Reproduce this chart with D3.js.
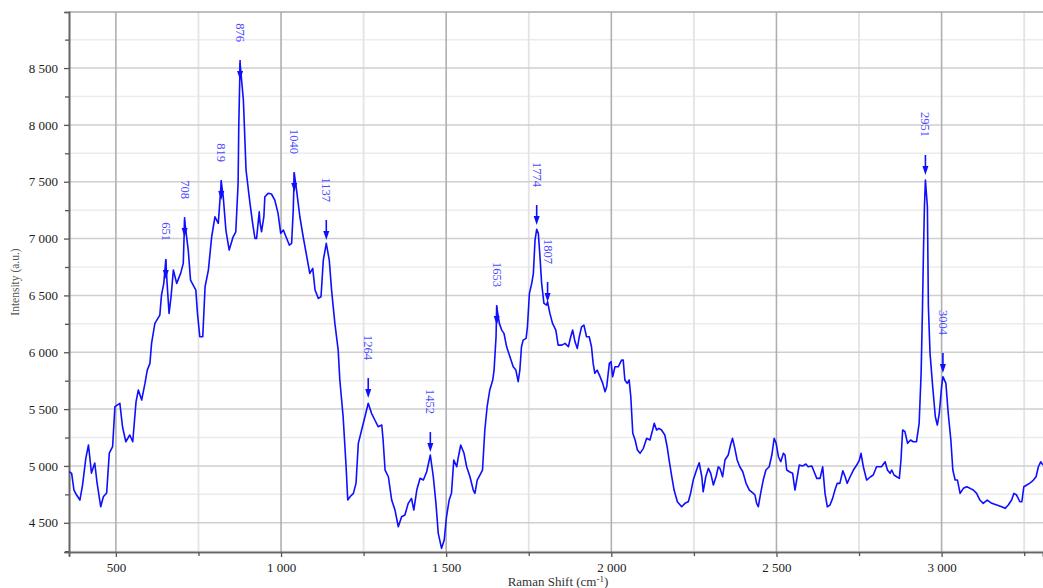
<!DOCTYPE html>
<html><head><meta charset="utf-8">
<script src="https://cdn.jsdelivr.net/npm/d3@7"></script>
<style>
body{margin:0;background:#fff}
svg{display:block}
text{font-family:"Liberation Serif","Times New Roman",serif}
</style>
</head><body>
<svg id="chart" width="1043" height="588"></svg>
<script>
const ramanShift = [
359,366,373,381,391,399,409,417,426,436,
443,454,462,472,480,490,497,512,520,530,
542,551,561,568,578,588,595,603,608,618,
633,638,645,651,655,661,667,674,684,696,
704,708,719,726,734,742,747,754,763,770,
780,790,800,810,819,825,833,843,855,863,
870,872,876,886,894,906,914,921,926,934,
936,941,948,951,961,971,981,991,999,1007,
1015,1025,1032,1037,1040,1047,1057,1067,1078,1087,
1096,1103,1113,1121,1128,1137,1146,1153,1163,1173,
1178,1188,1197,1202,1209,1219,1227,1234,1244,1254,
1264,1274,1284,1294,1305,1309,1315,1325,1335,1345,
1355,1365,1375,1385,1395,1402,1411,1421,1431,1441,
1452,1461,1469,1476,1486,1494,1501,1509,1516,1523,
1532,1537,1544,1554,1562,1572,1582,1587,1594,1602,
1610,1617,1624,1632,1641,1645,1651,1653,1661,1668,
1675,1683,1693,1703,1711,1718,1723,1728,1733,1742,
1746,1752,1759,1764,1769,1774,1779,1784,1789,1796,
1804,1807,1814,1822,1832,1839,1850,1860,1870,1877,
1883,1890,1897,1903,1910,1917,1925,1933,1940,1945,
1950,1957,1966,1974,1981,1986,1994,1999,2004,2011,
2021,2031,2036,2041,2048,2054,2059,2065,2072,2079,
2087,2097,2107,2117,2125,2130,2137,2144,2152,2162,
2169,2175,2183,2190,2200,2213,2223,2233,2240,2248,
2258,2266,2274,2278,2286,2294,2301,2309,2317,2324,
2329,2337,2344,2354,2361,2367,2374,2381,2389,2398,
2408,2418,2430,2435,2440,2445,2452,2460,2468,2478,
2486,2493,2499,2506,2513,2521,2526,2531,2539,2549,
2556,2563,2569,2579,2589,2596,2607,2614,2622,2632,
2640,2647,2654,2662,2670,2677,2684,2692,2701,2708,
2714,2723,2733,2743,2751,2756,2763,2773,2785,2793,
2803,2818,2829,2836,2844,2849,2856,2864,2872,2877,
2882,2889,2897,2906,2914,2924,2932,2938,2942,2945,
2948,2951,2957,2960,2965,2973,2981,2987,2993,3000,
3004,3013,3020,3028,3034,3041,3048,3056,3066,3076,
3086,3096,3106,3116,3126,3138,3152,3167,3182,3192,
3202,3212,3219,3227,3237,3243,3249,3258,3266,3273,
3278,3286,3293,3300,3307
];
const intensity = [
4949,4935,4788,4744,4700,4832,5069,5184,4937,5025,
4850,4641,4729,4762,5113,5169,5521,5551,5345,5213,
5272,5213,5565,5668,5580,5726,5843,5902,6078,6254,
6327,6503,6606,6811,6606,6342,6488,6723,6606,6694,
6782,7163,6899,6635,6591,6547,6342,6136,6136,6576,
6723,7016,7192,7134,7500,7368,7075,6899,7016,7060,
7486,7984,8541,8218,7603,7310,7134,7002,7002,7236,
7148,7060,7192,7368,7398,7392,7339,7222,7046,7075,
7016,6943,6958,7251,7574,7427,7192,7016,6840,6694,
6738,6547,6474,6488,6811,6958,6811,6547,6254,6019,
5756,5433,4993,4700,4729,4759,4847,5199,5316,5433,
5551,5463,5404,5345,5360,5228,4964,4905,4700,4612,
4465,4553,4568,4671,4715,4612,4788,4891,4876,4949,
5096,4905,4671,4407,4275,4348,4553,4700,4759,5052,
4993,5081,5184,5111,4993,4905,4788,4759,4876,4920,
4964,5316,5521,5668,5756,5843,6136,6400,6254,6195,
6166,6048,5960,5872,5843,5741,5843,6048,6107,6122,
6224,6518,6606,6694,6987,7081,7046,6840,6606,6430,
6415,6444,6342,6254,6195,6063,6063,6078,6048,6136,
6195,6092,6034,6136,6224,6239,6136,6136,6048,5902,
5814,5843,5785,5726,5653,5697,5902,5917,5785,5872,
5872,5931,5931,5756,5726,5756,5609,5287,5228,5140,
5111,5155,5243,5228,5316,5375,5316,5331,5316,5272,
5169,5052,4905,4788,4685,4641,4671,4685,4759,4876,
4964,5028,4905,4773,4905,4979,4935,4832,4905,4993,
4979,4905,5052,5096,5184,5243,5155,5052,4993,4949,
4847,4788,4759,4744,4671,4641,4759,4876,4964,4993,
5096,5243,5199,5081,5037,5111,5096,4964,4949,4935,
4788,4905,5008,4999,5017,4993,4999,4949,4891,4891,
4993,4759,4641,4656,4715,4788,4847,4847,4958,4905,
4847,4905,4964,5008,5052,5111,4993,4876,4905,4920,
4993,4993,5037,4964,4935,4964,4920,4905,4891,5052,
5316,5301,5199,5228,5213,5213,5375,5814,6371,6870,
7280,7515,7280,6400,5990,5697,5433,5360,5463,5697,
5785,5726,5463,5228,4964,4876,4876,4759,4803,4817,
4803,4788,4759,4700,4671,4700,4671,4656,4641,4627,
4656,4700,4759,4744,4685,4685,4817,4832,4847,4862,
4876,4905,4993,5037,5008
];
const peakShift  = [651, 708, 819, 876, 1040, 1137, 1264, 1452, 1653, 1774, 1807, 2951, 3004];
const peakTip    = [6644,7013,7339,8394,7409,6987,5597,5122,6239,7119,6442,7559,5817];
const peakLabels = ["651","708","819","876","1040","1137","1264","1452","1653","1774","1807","2951","3004"];

const xMajorTicks = [500,1000,1500,2000,2500,3000];
const xMinorTicks = [750,1250,1750,2250,2750,3250];
const yMajorTicks = [4500,5000,5500,6000,6500,7000,7500,8000,8500];
const yMinorTicks = [4250,4750,5250,5750,6250,6750,7250,7750,8250,8750];
const xTitle = "Raman Shift (cm";
const yTitle = "Intensity (a.u.)";

const L = 69, R = 1043, T = 12, B = 552;
const svg = d3.select("#chart");
const x = d3.scaleLinear().domain([358, 3307]).range([L, R]);
const y = d3.scaleLinear().domain([4243, 8993]).range([B, T]);
const fmt = d3.formatLocale({decimal:".", thousands:" ", grouping:[3], currency:["",""]}).format(",");

// grid
const g = svg.append("g");
g.selectAll(".hmin").data(yMinorTicks).join("line")
  .attr("x1", L).attr("x2", R).attr("y1", d => y(d)).attr("y2", d => y(d))
  .attr("stroke", "#ececec").attr("stroke-width", 1.5);
g.selectAll(".vmin").data(xMinorTicks).join("line")
  .attr("y1", T).attr("y2", B).attr("x1", d => x(d)).attr("x2", d => x(d))
  .attr("stroke", "#e4e4e4").attr("stroke-width", 1.8);
g.selectAll(".hmaj").data(yMajorTicks).join("line")
  .attr("x1", L).attr("x2", R).attr("y1", d => y(d)).attr("y2", d => y(d))
  .attr("stroke", "#cfcfcf").attr("stroke-width", 1.5);
g.selectAll(".vmaj").data(xMajorTicks).join("line")
  .attr("y1", T).attr("y2", B).attr("x1", d => x(d)).attr("x2", d => x(d))
  .attr("stroke", "#b0b0b0").attr("stroke-width", 1.6);
svg.append("line").attr("x1", L).attr("x2", R).attr("y1", T).attr("y2", T)
  .attr("stroke", "#a8a8a8").attr("stroke-width", 1.5);

// axes
const yAxis = svg.append("g").attr("transform", `translate(${L},0)`)
  .call(d3.axisLeft(y).tickValues(yMajorTicks).tickFormat(fmt).tickSize(5).tickPadding(6));
const yAxisMinor = svg.append("g").attr("transform", `translate(${L},0)`)
  .call(d3.axisLeft(y).tickValues(yMinorTicks).tickFormat("").tickSize(4));
const xAxis = svg.append("g").attr("transform", `translate(0,${B})`)
  .call(d3.axisBottom(x).tickValues(xMajorTicks).tickFormat(fmt).tickSize(5).tickPadding(6));
const xAxisMinor = svg.append("g").attr("transform", `translate(0,${B})`)
  .call(d3.axisBottom(x).tickValues(xMinorTicks).tickFormat("").tickSize(4));
[yAxis, yAxisMinor, xAxis, xAxisMinor].forEach(a => {
  a.select(".domain").attr("stroke", "#666").attr("stroke-width", 1.6);
  a.selectAll(".tick line").attr("stroke", "#555").attr("stroke-width", 1.3);
  a.selectAll("text").attr("font-family", "Liberation Serif, serif").attr("font-size", 13).attr("fill", "#222");
});

// line
svg.append("clipPath").attr("id", "clip").append("rect")
  .attr("x", L).attr("y", T).attr("width", R - L).attr("height", B - T);
const pts = ramanShift.map((s, i) => [s, intensity[i]]);
svg.append("path").datum(pts)
  .attr("clip-path", "url(#clip)")
  .attr("fill", "none").attr("stroke", "#0f0fff").attr("stroke-width", 1.6)
  .attr("stroke-linejoin", "round")
  .attr("d", d3.line().x(d => x(d[0])).y(d => y(d[1])));

// peak markers
const pk = svg.append("g");
peakShift.forEach((s, i) => {
  const px = x(s), tip = y(peakTip[i]);
  pk.append("line").attr("x1", px).attr("x2", px).attr("y1", tip - 20).attr("y2", tip - 7)
    .attr("stroke", "#0f0fff").attr("stroke-width", 1.6);
  pk.append("path")
    .attr("d", `M${px - 3},${tip - 9} L${px + 3},${tip - 9} L${px},${tip} Z`)
    .attr("fill", "#0f0fff");
  const ly = tip - 38;
  pk.append("text").attr("x", px).attr("y", ly)
    .attr("transform", `rotate(90,${px},${ly})`)
    .attr("text-anchor", "end").attr("dominant-baseline", "central")
    .attr("font-size", 12.5).attr("fill", "#4a4aff").text(peakLabels[i]);
});

// titles
const xt = svg.append("text").attr("x", 558).attr("y", 586).attr("text-anchor", "middle")
  .attr("font-size", 13).attr("fill", "#333");
xt.append("tspan").text(xTitle);
xt.append("tspan").attr("dy", -4).attr("font-size", 9).text("-1");
xt.append("tspan").attr("dy", 4).text(")");
svg.append("text").attr("transform", `translate(19,282) rotate(-90)`)
  .attr("text-anchor", "middle").attr("font-size", 11.5).attr("fill", "#555").text(yTitle);
</script>
</body></html>
